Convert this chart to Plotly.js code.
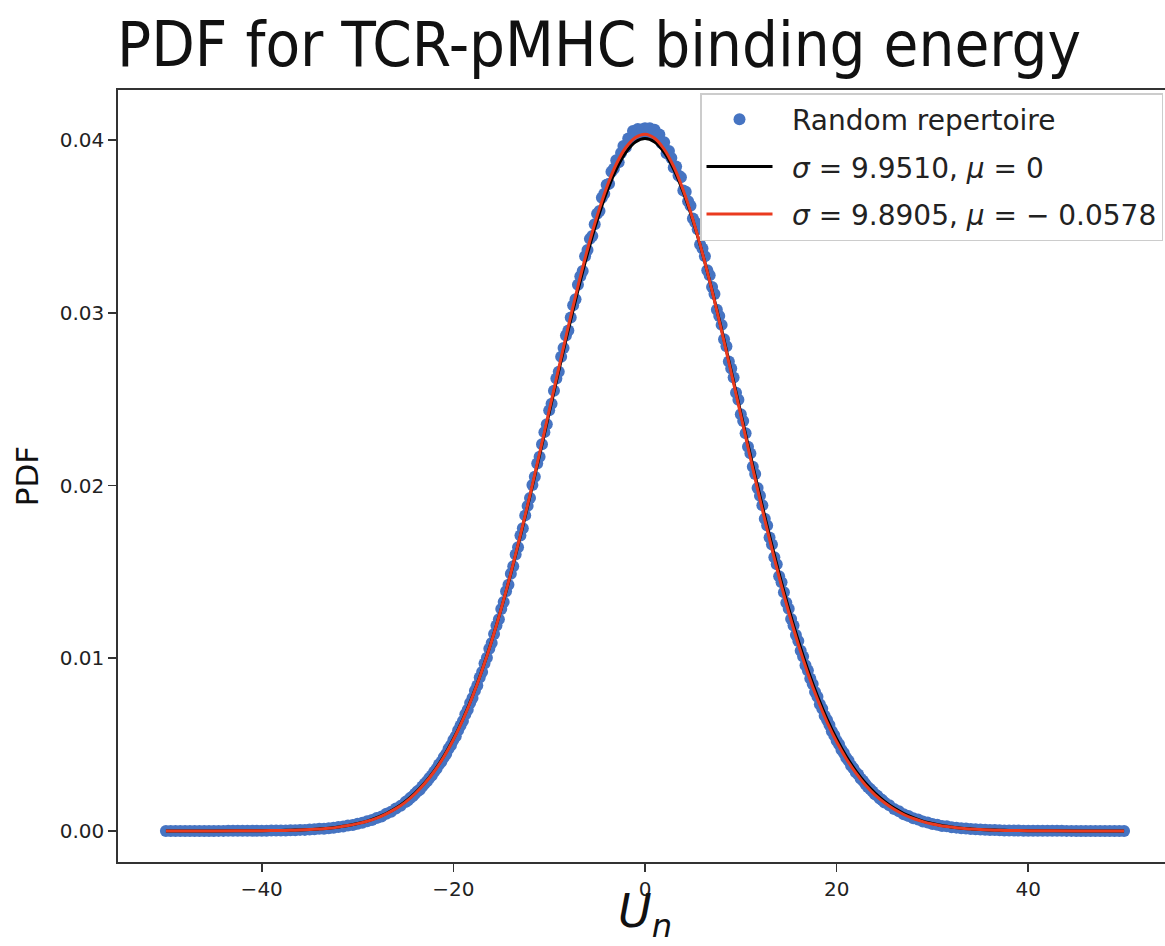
<!DOCTYPE html>
<html>
<head>
<meta charset="utf-8">
<script src="https://cdn.plot.ly/plotly-3.0.1.min.js"></script>
<style>
html,body{margin:0;padding:0;overflow:hidden;background:#fff;}
#chart{width:1180px;height:946px;}
</style>
</head>
<body>
<div id="chart"></div>
<script>
// Empirical PDF points (Random repertoire)
const dataX = [
-50,-49.5,-49,-48.5,-48,-47.5,-47,-46.5,-46,-45.5,-45,-44.5,-44,-43.5,-43,-42.5,-42,-41.5,-41,-40.5,
-40,-39.5,-39,-38.5,-38,-37.5,-37,-36.5,-36,-35.5,-35,-34.5,-34,-33.5,-33,-32.5,-32,-31.5,-31,-30.5,
-30,-29.5,-29,-28.5,-28,-27.5,-27,-26.5,-26,-25.5,
-25,-24.75,-24.5,-24.25,-24,-23.75,-23.5,-23.25,-23,-22.75,-22.5,-22.25,-22,-21.75,-21.5,-21.25,-21,-20.75,-20.5,-20.25,
-20,-19.75,-19.5,-19.25,-19,-18.75,-18.5,-18.25,-18,-17.75,-17.5,-17.25,-17,-16.75,-16.5,-16.25,-16,-15.75,-15.5,-15.25,
-15,-14.75,-14.5,-14.25,-14,-13.75,-13.5,-13.25,-13,-12.75,-12.5,-12.25,-12,-11.75,-11.5,-11.25,-11,-10.75,-10.5,-10.25,
-10,-9.75,-9.5,-9.25,-9,-8.75,-8.5,-8.25,-8,-7.75,-7.5,-7.25,-7,-6.75,-6.5,-6.25,-6,-5.75,-5.5,-5.25,
-5,-4.75,-4.5,-4.25,-4,-3.75,-3.5,-3.25,-3,-2.75,-2.5,-2.25,-2,-1.75,-1.5,-1.25,-1,-0.75,-0.5,-0.25,
0,
0.25,0.5,0.75,1,1.25,1.5,1.75,2,2.25,2.5,2.75,3,3.25,3.5,3.75,4,4.25,4.5,4.75,5,
5.25,5.5,5.75,6,6.25,6.5,6.75,7,7.25,7.5,7.75,8,8.25,8.5,8.75,9,9.25,9.5,9.75,10,
10.25,10.5,10.75,11,11.25,11.5,11.75,12,12.25,12.5,12.75,13,13.25,13.5,13.75,14,14.25,14.5,14.75,15,
15.25,15.5,15.75,16,16.25,16.5,16.75,17,17.25,17.5,17.75,18,18.25,18.5,18.75,19,19.25,19.5,19.75,20,
20.25,20.5,20.75,21,21.25,21.5,21.75,22,22.25,22.5,22.75,23,23.25,23.5,23.75,24,24.25,24.5,24.75,25,
25.5,26,26.5,27,27.5,28,28.5,29,29.5,30,30.5,31,31.5,32,32.5,33,33.5,34,34.5,35,
35.5,36,36.5,37,37.5,38,38.5,39,39.5,40,40.5,41,41.5,42,42.5,43,43.5,44,44.5,45,
45.5,46,46.5,47,47.5,48,48.5,49,49.5,50
];
const dataY = [
0,0,0,0,0,0,0.000001,0,0.000001,0.000001,0.000001,0.000002,0.000002,0.000003,0.000003,0.000004,0.000005,0.000006,0.000008,0.000009,
0.00001,0.00001,0.00002,0.00002,0.00002,0.00003,0.00004,0.00004,0.00006,0.00006,0.00008,0.00009,0.00012,0.00012,0.00016,0.00018,0.00023,0.00025,0.00031,0.00034,
0.00042,0.00047,0.00056,0.00063,0.00075,0.00084,0.00099,0.00111,0.00130,0.00145,
0.00168,0.00176,0.00191,0.00200,0.00215,0.00229,0.00239,0.00257,0.00273,0.00287,0.00307,0.00321,0.00343,0.00360,0.00384,0.00401,0.00427,0.00446,0.00476,0.00496,
0.00527,0.00548,0.00583,0.00611,0.00636,0.00675,0.00702,0.00741,0.00769,0.00812,0.00842,0.00888,0.00920,0.00969,0.01002,0.01055,0.01088,0.01140,0.01189,0.01226,
0.01285,0.01326,0.01388,0.01425,0.01489,0.01532,0.01601,0.01642,0.01711,0.01753,0.01827,0.01882,0.01927,0.02003,0.02050,0.02127,0.02166,0.02239,0.02309,0.02355,
0.02435,0.02473,0.02549,0.02619,0.02658,0.02745,0.02796,0.02869,0.02898,0.02973,0.03044,0.03079,0.03162,0.03211,0.03242,0.03327,0.03363,0.03428,0.03445,0.03513,
0.03573,0.03589,0.03666,0.03689,0.03742,0.03747,0.03816,0.03834,0.03883,0.03871,0.03925,0.03966,0.03958,0.04009,0.04010,0.04052,0.04028,0.04064,0.04037,0.04063,
0.04069,
0.04045,0.04069,0.04040,0.04060,0.04022,0.04033,0.03981,0.03988,0.03923,0.03937,0.03896,0.03841,0.03847,0.03795,0.03785,0.03708,0.03701,0.03646,0.03620,0.03546,
0.03523,0.03483,0.03396,0.03372,0.03327,0.03246,0.03217,0.03150,0.03109,0.03018,0.02981,0.02930,0.02847,0.02806,0.02718,0.02678,0.02625,0.02537,0.02496,0.02412,
0.02374,0.02302,0.02225,0.02186,0.02109,0.02066,0.01986,0.01941,0.01886,0.01808,0.01768,0.01699,0.01658,0.01585,0.01544,0.01475,0.01440,0.01382,0.01321,0.01287,
0.01227,0.01190,0.01135,0.01100,0.01043,0.01010,0.00959,0.00929,0.00882,0.00851,0.00804,0.00777,0.00734,0.00708,0.00667,0.00642,0.00613,0.00577,0.00554,0.00522,
0.00502,0.00470,0.00451,0.00423,0.00406,0.00379,0.00363,0.00340,0.00326,0.00303,0.00290,0.00272,0.00254,0.00243,0.00228,0.00212,0.00203,0.00188,0.00179,0.00165,
0.00148,0.00127,0.00114,0.00097,0.00087,0.00073,0.00066,0.00054,0.00049,0.00040,0.00036,0.00029,0.00027,0.00021,0.00019,0.00015,0.00014,0.00011,0.00010,0.00008,
0.00007,0.00005,0.00005,0.00004,0.00003,0.00003,0.00002,0.00002,0.00001,0.00001,0.000009,0.000007,0.000006,0.000005,0.000004,0.000003,0.000003,0.000002,0.000002,0.000001,
0.000001,0.000001,0.000001,0,0,0,0,0,0,0
];

// Fitted Gaussian curves
const fitX = [
-50,-45,-40,-39,-38,-37,-36,-35,-34,-33,-32,-31,-30,-29,-28,-27,-26,-25,-24,-23,-22,-21,
-20,-19,-18,-17,-16,-15,-14,-13,-12,-11,-10,-9,-8,-7,-6,-5,-4,-3,-2,-1,
0,1,2,3,4,5,6,7,8,9,10,11,12,13,14,15,16,17,18,19,20,
21,22,23,24,25,26,27,28,29,30,31,32,33,34,35,36,37,38,39,40,45,50
];
const fitBlackY = [
0,0.000001,0.000012,0.000018,0.000027,0.000040,0.000058,0.000083,0.00012,0.00016,0.00023,0.00031,0.00043,0.00057,0.00077,0.00101,0.00132,0.00171,0.00219,0.00277,0.00348,0.00432,
0.00532,0.00648,0.00781,0.00932,0.01101,0.01287,0.01490,0.01708,0.01938,0.02176,0.02420,0.02663,0.02902,0.03130,0.03343,0.03534,0.03698,0.03831,0.03929,0.03989,
0.04009,0.03989,0.03929,0.03831,0.03698,0.03534,0.03343,0.03130,0.02902,0.02663,0.02420,0.02176,0.01938,0.01708,0.01490,0.01287,0.01101,0.00932,0.00781,0.00648,0.00532,
0.00432,0.00348,0.00277,0.00219,0.00171,0.00132,0.00101,0.00077,0.00057,0.00043,0.00031,0.00023,0.00016,0.00012,0.000083,0.000058,0.000040,0.000027,0.000018,0.000012,0.000001,0
];
const fitRedY = [
0,0.000001,0.000011,0.000017,0.000025,0.000037,0.000054,0.000077,0.00011,0.00015,0.00022,0.00031,0.00042,0.00056,0.00074,0.00099,0.00129,0.00167,0.00215,0.00274,0.00344,0.00428,
0.00528,0.00644,0.00778,0.00930,0.01100,0.01288,0.01493,0.01714,0.01946,0.02187,0.02434,0.02680,0.02922,0.03153,0.03368,0.03560,0.03726,0.03860,0.03957,0.04015,
0.04034,0.04011,0.03947,0.03846,0.03708,0.03540,0.03344,0.03127,0.02894,0.02652,0.02406,0.02159,0.01918,0.01688,0.01469,0.01266,0.01080,0.00912,0.00762,0.00630,0.00516,
0.00418,0.00336,0.00266,0.00209,0.00163,0.00125,0.00095,0.00072,0.00054,0.00040,0.00029,0.00022,0.00015,0.00011,0.000077,0.000054,0.000037,0.000025,0.000017,0.000011,0.000001,0
];

const seriesNames = [
  'Random repertoire',
  '<i>σ</i> = 9.9510, <i>μ</i> = 0',
  '<i>σ</i> = 9.8905, <i>μ</i> = \u2212 0.0578'
];
const xTicks = [-40, -20, 0, 20, 40];
const yTicks = [0, 0.01, 0.02, 0.03, 0.04];
const yTickText = ['0.00', '0.01', '0.02', '0.03', '0.04'];
const xTitle = '<i>U</i><sub><i>n</i></sub>';

const FONT = 'DejaVu Sans, Liberation Sans, sans-serif';
const PAD = '\u00a0\u2009';

const traces = [
  {
    x: dataX, y: dataY, type: 'scatter', mode: 'markers', name: PAD + seriesNames[0],
    legendgroup: 'g1',
    marker: {color: '#4674c2', size: 12, line: {width: 0}}
  },
  {
    x: fitX, y: fitBlackY, type: 'scatter', mode: 'lines', name: PAD + seriesNames[1],
    legendgroup: 'g2',
    line: {color: '#000000', width: 3, shape: 'spline', smoothing: 0.8}
  },
  {
    x: fitX, y: fitRedY, type: 'scatter', mode: 'lines', name: PAD + seriesNames[2],
    legendgroup: 'g3',
    line: {color: '#ea3a1f', width: 3, shape: 'spline', smoothing: 0.8}
  }
];

const layout = {
  width: 1180, height: 946,
  margin: {l: 118, r: 8, t: 90, b: 84},
  paper_bgcolor: '#ffffff', plot_bgcolor: '#ffffff',
  showlegend: true,
  font: {family: FONT, color: '#222'},
  title: {
    text: 'PDF for TCR-pMHC binding energy',
    font: {family: 'DejaVu Sans Condensed, DejaVu Sans, sans-serif', size: 63, color: '#111'},
    xref: 'container', x: 599 / 1180, xanchor: 'center',
    yref: 'container', y: 1 - 44 / 946, yanchor: 'middle'
  },
  xaxis: {
    range: [-55, 55], tickvals: xTicks,
    showgrid: false, zeroline: false,
    showline: true, mirror: true, linecolor: '#333', linewidth: 1.8,
    ticks: 'outside', ticklen: 8, tickwidth: 1.6, tickcolor: '#333',
    tickfont: {family: FONT, size: 20, color: '#222'}
  },
  yaxis: {
    range: [-0.0018, 0.0429], tickvals: yTicks, ticktext: yTickText,
    showgrid: false, zeroline: false,
    showline: true, mirror: true, linecolor: '#333', linewidth: 1.8,
    ticks: 'outside', ticklen: 8, tickwidth: 1.6, tickcolor: '#333',
    tickfont: {family: FONT, size: 20, color: '#222'},
    title: {text: 'PDF', font: {family: FONT, size: 31, color: '#111'}, standoff: 12}
  },
  annotations: [{
    text: xTitle, xref: 'paper', yref: 'paper',
    x: 0.5, y: -(914 - 862) / 772, xanchor: 'center', yanchor: 'middle',
    showarrow: false, font: {family: FONT, size: 46, color: '#111'}
  }],
  legend: {
    x: (1163 - 118) / 1054, xanchor: 'right', xref: 'paper',
    y: (862 - 93) / 772, yanchor: 'top', yref: 'paper',
    bgcolor: '#ffffff', bordercolor: '#cccccc', borderwidth: 1.5,
    font: {family: FONT, size: 28, color: '#222'},
    itemwidth: 66, traceorder: 'grouped', tracegroupgap: 8
  }
};

Plotly.newPlot('chart', traces, layout, {displayModeBar: false, staticPlot: true});
</script>
</body>
</html>
